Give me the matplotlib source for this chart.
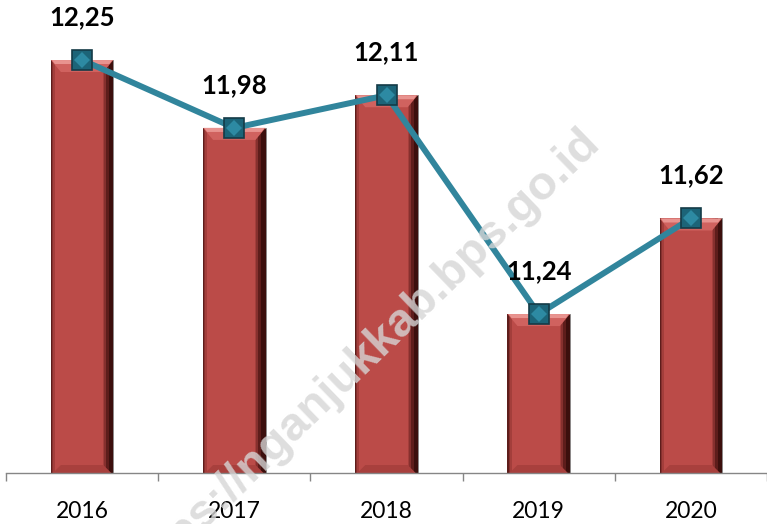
import numpy as np
import matplotlib
matplotlib.use("Agg")
import matplotlib.pyplot as plt

# data
years = ["2016", "2017", "2018", "2019", "2020"]
values = [12.25, 11.98, 12.11, 11.24, 11.62]
labels = ["12,25", "11,98", "12,11", "11,24", "11,62"]

plt.rcParams["font.family"] = ["Lato", "DejaVu Sans"]

fig = plt.figure(figsize=(7.67, 5.24), dpi=100)
ax = fig.add_axes([6 / 767, 51 / 524, 761 / 767, 473 / 524])

x = np.arange(len(years))
ymin = 10.608
ax.set_xlim(-0.5, len(years) - 0.5)
ax.set_ylim(ymin, ymin + 473 / 251.5)

# bars, built up in layers to fake the bevelled Excel look
w = 0.41
px = 1 / 152  # one pixel in x data units
h = np.array(values) - ymin
ax.bar(x, h, width=w, bottom=ymin, color="#3c0f0d", edgecolor="#8a8a8a", linewidth=0.6, zorder=2)
ax.bar(x - 2 * px, h, width=w - 4 * px, bottom=ymin, color="#5e1d1b", linewidth=0, zorder=2)
ax.bar(x - 3 * px, h, width=w - 8 * px, bottom=ymin, color="#86302e", linewidth=0, zorder=2)
ax.bar(x - 3.5 * px, h, width=w - 11 * px, bottom=ymin, color="#a33e3b", linewidth=0, zorder=2)
ax.bar(x - 3 * px, h, width=w - 14 * px, bottom=ymin, color="#bb4b48", linewidth=0, zorder=2)

# top and bottom bevels
py = 1 / 251.5  # one pixel in y data units
for xi, v in zip(x, values):
    l, r = xi - w / 2, xi + w / 2
    ax.fill([l, r, r - 10 * px, l + 10 * px], [v, v, v - 12 * py, v - 12 * py],
            color="#d0625f", lw=0, zorder=2.1)
    ax.fill([l + 1 * px, r - 1 * px, r - 4 * px, l + 4 * px], [v, v, v - 4 * py, v - 4 * py],
            color="#e8938f", lw=0, zorder=2.2)
    ax.fill([l + 2 * px, r - 2 * px, r - 10 * px, l + 10 * px],
            [ymin, ymin, ymin + 8 * py, ymin + 8 * py],
            color="#a8403d", lw=0, zorder=2.1)

# line with square markers
ax.plot(x, values, color="#31859c", lw=4.3, zorder=3, solid_joinstyle="miter")
ax.plot(x, values, ls="none", marker="s", markersize=14, markerfacecolor="#1c6478",
        markeredgecolor="#143b47", markeredgewidth=1.2, zorder=4)
ax.plot(x, values, ls="none", marker="D", markersize=8, markerfacecolor="#2d8aa3",
        markeredgewidth=0, zorder=5)

for xi, v, t in zip(x, values, labels):
    ax.annotate(t, (xi, v), xytext=(0, 31), textcoords="offset points",
                ha="center", va="center", fontsize=18.5, fontweight="bold", color="black", zorder=6)

# watermark
fig.text(362 / 767, 1 - 359 / 524, "https://nganjukkab.bps.go.id", rotation=44,
         ha="center", va="center", fontsize=34, fontweight="bold",
         family="Liberation Sans", color="#d6d6d6", alpha=0.8, zorder=1)

for s in ["top", "right", "left"]:
    ax.spines[s].set_visible(False)
ax.spines["bottom"].set_color("#868686")
ax.spines["bottom"].set_linewidth(1.0)

ax.set_yticks([])
ax.set_xticks(x)
ax.set_xticklabels(years, fontsize=16.5)
ax.tick_params(axis="x", which="major", length=0, pad=20)
ax.set_xticks(np.arange(len(years) + 1) - 0.5, minor=True)
ax.tick_params(axis="x", which="minor", length=6, color="#868686", width=1)
ax.patch.set_alpha(0)

fig.savefig("out.png", dpi=100)
